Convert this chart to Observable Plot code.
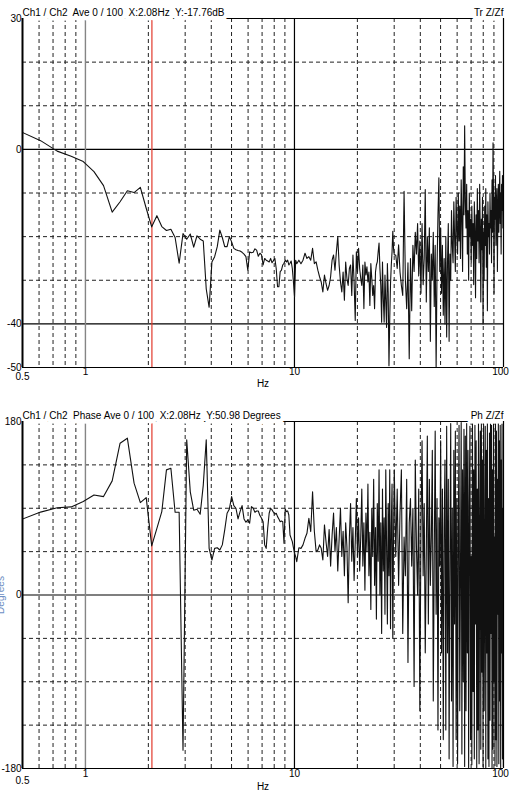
<!DOCTYPE html>
<html><head><meta charset="utf-8">
<script src="https://cdn.jsdelivr.net/npm/d3@7"></script>
<script src="https://cdn.jsdelivr.net/npm/@observablehq/plot@0.6"></script>
<style>
html,body{margin:0;padding:0;background:#fff;}
#chart svg{display:block;}
</style></head><body><div id="chart"></div>
<script>
// FFT bin spacing (Hz) and bin index sets used for the sampled spectrum
const BIN_HZ = 500 / 4096;
const binsA = d3.range(4, 85, 1);
const binsB = d3.range(86, 247, 2);
const binsC = d3.range(250, 819, 4);

// Transfer function magnitude (dB)
const magA = [4.1, 2.0, -0.4, -1.6, -2.8, -5.1, -8.3, -14.4, -12.0, -9.5,
  -9.9, -8.7, -13.5, -17.76, -15.2, -17.7, -18.6, -18.3, -20.2, -26.1,
  -19.3, -20.6, -19.4, -22.4, -19.8, -20.6, -21.0, -32.0, -36.2, -25.8,
  -24.6, -22.3, -18.5, -20.2, -22.3, -22.3, -20.0, -21.2, -22.7, -23.0,
  -23.2, -23.3, -23.6, -24.0, -24.6, -27.7, -23.5, -23.7, -23.6, -22.8,
  -23.1, -24.5, -23.8, -24.2, -26.5, -25.0, -25.4, -25.6, -25.8, -25.0,
  -26.0, -25.5, -25.0, -27.3, -31.5, -31.5, -28.0, -27.7, -26.5, -26.1,
  -25.4, -25.8, -25.4, -26.5, -26.1, -25.6, -27.3, -30.4, -33.8, -25.4,
  -26.2];
const magB = [-25.4, -26.2, -25.4, -23.8, -25.0, -24.6, -25.4, -22.7, -26.2, -25.8,
  -27.7, -29.2, -30.4, -32.7, -28.8, -30.8, -32.3, -31.2, -29.2, -25.4,
  -24.2, -27.7, -23.5, -20.0, -26.5, -30.4, -32.7, -28.1, -34.6, -25.8,
  -29.6, -31.2, -27.3, -26.5, -33.5, -24.2, -30.4, -39.2, -23.5, -28.1,
  -22.7, -27.3, -29.6, -31.2, -26.5, -36.5, -25.8, -28.8, -26.9, -30.4,
  -28.1, -35.8, -26.2, -29.6, -33.5, -31.2, -36.5, -28.1, -26.5, -25.8,
  -23.5, -21.5, -27.3, -31.2, -39.6, -25.8, -34.2, -39.6, -28.8, -35.0,
  -40.8, -26.2, -32.7, -49.6, -38.8, -30.8, -26.5, -23.5, -18.8, -22.7,
  -24.2];
const magC = [-24.2, -27.3, -21.9, -28.1, -31.2, -33.5,
  -9.6, -30, -36.5, -26, -48,
  -25, -37, -22, -28, -19,
  -24, -17, -29, -21, -33,
  -17, -31, -25, -9.2, -35,
  -20, -28, -18, -44, -24,
  -30, -19, -36, -22, -50, -27, -15,
  -6.5, -28, -18, -33, -22, -38, -25, -40,
  -20, -43, -26, -17, -44, -24, -30,
  -14, -22, -26, -12, -20, -28, -11, -18, -24, -10,
  -21, -13, -25, -7, -16, -28, -4, -15, 5.4, -12,
  -18, -8, -24, -14, -30, -10, -20, -16, -26, -13,
  -22, -17, -31, -12, -19, -34, -15, -25, -9, -21,
  -14, -26, -8, -18, -35, -16, -23, -11, -40, -19,
  -30, -13, -22, -9, -27, -15, -37, -12, -20, -17,
  -24, -10, -18, -14, -26, -7, -19, 1.5, -12, -33,
  -11, -16, -6, -22, -13, -9, -28, -15, -8, -19,
  -12, -5, -17, -10, -24, -8, -14, -6, -18, -11];

// Phase (degrees)
const phaseA = [77.9, 86, 90.5, 91.4, 97, 103.8, 102.1, 118.4, 157.5, 162.7,
  116, 95.9, 101, 50.98, 69.2, 86.5, 129.8, 131.5, 85.8, 85.8,
  -161, 161, 107, 88, 89, 83.8, 114, 161, 48.4, 36.3,
  48.4, 49, 46.7, 52, 67.5, 84.8, 89.3, 102.1, 92.8, 90,
  78.9, 86.5, 92.8, 78.9, 75.5, 77.9, 74.4, 91.7, 90, 85.8,
  87.2, 87.2, 82.4, 79.6, 76.1, 52, 48.4, 69.2, 84.8, 90,
  88.3, 85.8, 83.8, 84.8, 81.3, 78.9, 76.1, 76.8, 76.1, 53.6,
  89.3, 86.5, 87.2, 83, 62.3, 58.8, 55.4, 49, 43.3, 39.8,
  34.6];
const phaseB = [49, 48.4, 52, 58.8, 64, 79.6, 65.8, 107, 65.8, 45,
  46.7, 52, 48.4, 36.3, 72.7, 55, 40, 68, 30, 62,
  85, 45, 70, 25, 58, 90, 40, 66, 20, 75,
  50, -8, 60, 95, 35, 70, 15, 55, 100, 40,
  80, 25, 60, 110, 30, 75, 5, 85, 45, 115,
  20, 65, -15, 90, 40, 120, 10, 70, -25, 95,
  35, 130, 0, 75, -40, 110, 25, 80, -20, 130,
  50, -30, 95, 20, 130, -35, 70, 115, -45, 60,
  130];
const phaseC = [40, 110, 10, 85, 130, -40, 60, 20, 120, -70, 75,
  100, 30, 90, -95, 140, 50, 0, 110, -120, 70, 160, 20, 95, -60, 45,
  165, -30, 120, 10, 60, 150, -110, 40, 170, -20, 100, -140, 80, 30, 160, -60, 110, -150, 70, 140,
  -140, 175, -60, 120, -170, 40, 178, -110, 90, -178, 150, -30, 170, -150, 100, -175, 60, 176, -120, 20, 179, -165, 130, -90, 172,
  -178, 165, -120, 178, -60, 150, -179, 90, 175, -150, 40, -176,
  179, -100, 130, -170, 176, -30, 160, -179, 110, -140, 178, -175,
  60, 170, -160, 179, -80, 140, -178, 177, -120, 20, 175, -179,
  150, -60, 179, -170, 100, -178, 168, -130, 178, -40, 176, -179,
  130, -160, 179, -90, 60, -177, 178, -150, 170, -178, 120, -20,
  179, -175, 160, -110, 176, -179, 140, -60, 178, -170, 90, -178];

// Axis / grid definitions
const minorHz = [0.6, 0.7, 0.8, 0.9, 2, 3, 4, 5, 6, 7, 8, 9, 20, 30, 40, 50, 60, 70, 80, 90];
const cursorHz = 2.08;
const xTicksMain = [1, 10];
const xTicksEnd = [100];
const xTicksStart = [0.5];
const magDomain = [-50, 30];
const magGridDashed = [20, 10, -10, -20, -30];
const magGridSolid = [0, -40];
const magTicks = [30, 0, -40, -50];
const phaseDomain = [-180, 180];
const phaseGridDashed = [135, 90, 45, -45, -90, -135];
const phaseGridSolid = [0];
const phaseTicks = [180, 0, -180];
const magHeader = "Ch1 / Ch2  Ave 0 / 100  X:2.08Hz  Y:-17.76dB";
const magTag = "Tr Z/Zf";
const phaseHeader = "Ch1 / Ch2  Phase Ave 0 / 100  X:2.08Hz  Y:50.98 Degrees";
const phaseTag = "Ph Z/Zf";
const phaseLabel = "Degrees";

function rowsOf(binSets, valueSets) {
  const out = [];
  binSets.forEach((bins, j) => {
    const vals = valueSets[j];
    const n = Math.min(bins.length, vals.length);
    for (let i = 0; i < n; i++) out.push({hz: bins[i] * BIN_HZ, v: vals[i]});
  });
  return out;
}
const magRows = rowsOf([binsA, binsB, binsC], [magA, magB, magC]);
const phaseRows = rowsOf([binsA, binsB, binsC], [phaseA, phaseB, phaseC]);

const FONT = "'Liberation Sans', Arial, Helvetica, sans-serif";
const fmt = d => String(d);

function panel(o) {
  const marks = [
    Plot.ruleY(o.dashed, {stroke: "#222", strokeWidth: 1, strokeDasharray: "4,3"}),
    Plot.ruleX(minorHz, {stroke: "#222", strokeWidth: 1, strokeDasharray: "4,3"}),
    Plot.ruleY(o.solid, {stroke: "#000", strokeWidth: 1.2}),
    Plot.ruleX([1], {stroke: "#858585", strokeWidth: 1.4}),
    Plot.ruleX([10], {stroke: "#000", strokeWidth: 1.2}),
    Plot.ruleX([cursorHz], {stroke: "#e2392c", strokeWidth: 1.2}),
    Plot.line(o.rows, {x: "hz", y: "v", stroke: "#111", strokeWidth: 1.1, clip: true}),
    Plot.ruleY([o.domain[1]], {stroke: "#000", strokeWidth: 1.2}),
    Plot.text([o.header], {text: d => d, frameAnchor: "top-left", textAnchor: "start", lineAnchor: "middle", dy: -6,
      fill: "#000", stroke: "#fff", strokeWidth: 9, paintOrder: "stroke", fontSize: 10, fontFamily: FONT}),
    Plot.text([o.tag], {text: d => d, frameAnchor: "top-right", textAnchor: "end", lineAnchor: "middle", dy: -6,
      fill: "#000", stroke: "#fff", strokeWidth: 9, paintOrder: "stroke", fontSize: 10, fontFamily: FONT}),
    Plot.ruleY([o.domain[0]], {stroke: "#000", strokeWidth: 1.2}),
    Plot.ruleX([0.5], {stroke: "#000", strokeWidth: 2}),
    Plot.ruleX([100], {stroke: "#000", strokeWidth: 1.2}),
    Plot.axisY({ticks: o.ticks, tickSize: 0, tickPadding: 1, tickFormat: fmt, label: null, fontSize: 10, fontFamily: FONT}),
    Plot.axisX({ticks: xTicksMain, tickSize: 0, tickPadding: o.xPad, tickFormat: fmt, label: null, fontSize: 10, fontFamily: FONT}),
    Plot.axisX({ticks: xTicksEnd, tickSize: 0, tickPadding: o.xPad, dx: -3, tickFormat: fmt, label: null, fontSize: 10, fontFamily: FONT}),
    Plot.text(xTicksStart, {x: d => d, text: fmt, frameAnchor: "bottom", textAnchor: "middle", lineAnchor: "middle", dy: o.halfDy,
      fill: "#000", fontSize: 10, fontFamily: FONT}),
    Plot.text(["Hz"], {text: d => d, frameAnchor: "bottom", lineAnchor: "middle", dy: o.hzDy, fill: "#000", fontSize: 10, fontFamily: FONT})
  ];
  if (o.ylabel) {
    marks.push(Plot.text([o.ylabel], {text: d => d, frameAnchor: "left", rotate: -90, textAnchor: "middle", lineAnchor: "middle",
      dx: -22, fill: "#6d8fc4", fontSize: 10, fontFamily: FONT}));
  }
  return Plot.plot({
    width: 510,
    height: o.height,
    marginLeft: 22,
    marginRight: 7,
    marginTop: o.mt,
    marginBottom: o.mb,
    x: {type: "log", domain: [0.5, 100], axis: null},
    y: {domain: o.domain, axis: null},
    style: {fontFamily: FONT, fontSize: "10px", background: "#fff", overflow: "visible"},
    marks
  });
}

const magChart = panel({rows: magRows, domain: magDomain, dashed: magGridDashed, solid: magGridSolid, ticks: magTicks,
  height: 400, mt: 18, mb: 33, header: magHeader, tag: magTag, xPad: 0, halfDy: 9.5, hzDy: 16});
const phaseChart = panel({rows: phaseRows, domain: phaseDomain, dashed: phaseGridDashed, solid: phaseGridSolid, ticks: phaseTicks,
  height: 394, mt: 21, mb: 26, header: phaseHeader, tag: phaseTag, xPad: 1.5, halfDy: 12, hzDy: 18, ylabel: phaseLabel});
document.getElementById("chart").append(magChart, phaseChart);
</script>
</body></html>
